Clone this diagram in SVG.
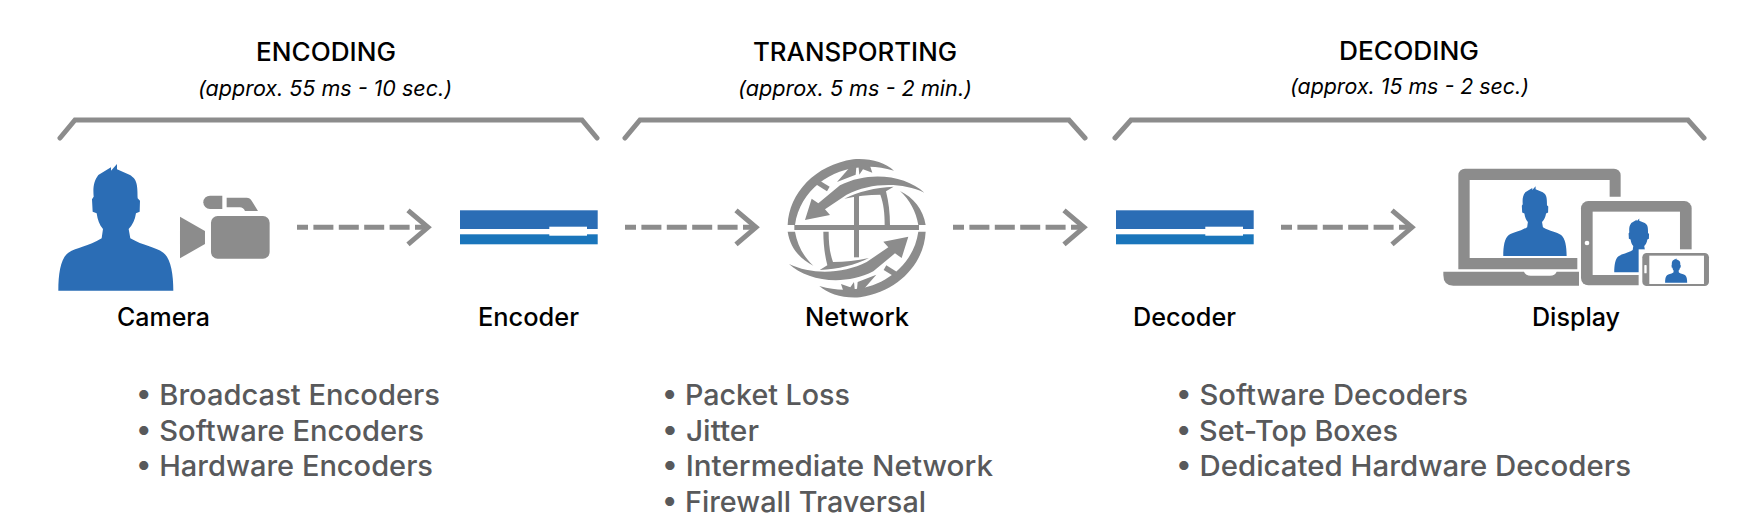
<svg xmlns="http://www.w3.org/2000/svg" xmlns:xlink="http://www.w3.org/1999/xlink" width="1764" height="528" viewBox="0 0 1764 528">
<style>
text{font-family:"Inter","Liberation Sans",sans-serif}
.head{font-size:25px;font-weight:500;fill:#000}
.sub{font-size:21px;font-style:italic;font-weight:400;fill:#000}
.lab{font-size:25px;font-weight:500;fill:#000}
.li{font-size:29px;font-weight:500;fill:#58595b}
.bracket{fill:none;stroke:#8c8c8c;stroke-width:5;stroke-linecap:round;stroke-linejoin:miter}
.flow{fill:none;stroke:#8c8c8c;stroke-width:5;stroke-dasharray:20 5.4;stroke-dashoffset:9}
.g{fill:#8c8c8c}
.p{fill:#2b6db5}
.w{fill:#fff}
.b2{fill:#1a75bb}
</style>
<defs>
<marker id="head" markerUnits="userSpaceOnUse" markerWidth="34" markerHeight="48" refX="27" refY="24" orient="auto">
<path d="M7 7 L27 24 L7 41" fill="none" stroke="#8c8c8c" stroke-width="5"/>
</marker>
<path id="person" d="M85 482C85 430 92 385 115 368C140 352 175 350 215 325L219 297C208 285 203 270 200 250L188 245L186 208L191 200C189 175 190 155 205 135L243 112V122L261 102V118L300 135C320 148 323 160 323 205L330 212L329 245L318 250C315 270 308 285 296 297L301 325C340 348 375 350 400 368C422 385 430 430 430 482Z"/>
<g id="half">
<path d="M38 225C42 130 120 45 235 28C285 24 330 38 357 62C320 52 290 48 262 52C170 55 75 120 60 225Z"/>
<path d="M38 245H60C67 285 85 320 115 347C75 328 45 292 38 245Z"/>
<path d="M448 128C395 78 285 60 195 106L130 160L110 146L90 210L165 195L150 178L215 134C285 98 380 95 448 128Z"/>
<path d="M113 97L121 84L164 110L156 124Z"/>
<path d="M186 96L228 48L245 42L242 74ZM250 44L253 74L264 58L292 68L284 44Z"/>
<path d="M208 146C250 125 300 112 356 110L333 124C341 155 345 190 345 225H329C329 190 326 162 316 134C280 134 245 138 208 146Z"/>
</g>
</defs>
<g id="connectors">
<polyline class="bracket" points="60,138 75,120 582,120 597,138"/>
<polyline class="bracket" points="625,138 640,120 1069,120 1085,138"/>
<polyline class="bracket" points="1115,138 1131,120 1688,120 1704,138"/>
<line class="flow" x1="297" y1="227.3" x2="428" y2="227.3" marker-end="url(#head)"/>
<line class="flow" x1="625" y1="227.3" x2="756" y2="227.3" marker-end="url(#head)"/>
<line class="flow" x1="953" y1="227.3" x2="1084" y2="227.3" marker-end="url(#head)"/>
<line class="flow" x1="1281" y1="227.3" x2="1412" y2="227.3" marker-end="url(#head)"/>
</g>
<g id="stage-encoding">
<text class="head" x="256" y="61" textLength="140" lengthAdjust="spacingAndGlyphs">ENCODING</text>
<text class="sub" x="198" y="96" textLength="254" lengthAdjust="spacingAndGlyphs">(approx. 55 ms - 10 sec.)</text>
</g>
<g id="stage-transporting">
<text class="head" x="753" y="61" textLength="204" lengthAdjust="spacingAndGlyphs">TRANSPORTING</text>
<text class="sub" x="738" y="96" textLength="234" lengthAdjust="spacingAndGlyphs">(approx. 5 ms - 2 min.)</text>
</g>
<g id="stage-decoding">
<text class="head" x="1339" y="60" textLength="140" lengthAdjust="spacingAndGlyphs">DECODING</text>
<text class="sub" x="1290" y="94" textLength="239" lengthAdjust="spacingAndGlyphs">(approx. 15 ms - 2 sec.)</text>
</g>
<g id="camera">
<g transform="translate(30,130) scale(.3333)">
<use xlink:href="#person" href="#person" class="p"/>
<path class="g" d="M450 260L525 303V342L450 385Z"/>
<rect class="g" x="543" y="258" width="176" height="128" rx="20"/>
<path class="g" d="M577 197H540a20 20 0 0 0 0 40H577Z"/>
<path class="g" d="M590 203H650Q660 203 665 212L684 243H645Q640 232 630 232H590Z"/>
</g>
<text class="lab" x="117" y="326" textLength="93" lengthAdjust="spacingAndGlyphs">Camera</text>
</g>
<g id="encoder">
<rect class="p" x="460" y="210.3" width="137.7" height="18.7"/>
<rect class="b2" x="460" y="234.3" width="137.7" height="10"/>
<rect class="w" x="549.3" y="226.7" width="37.7" height="9"/>
<text class="lab" x="478" y="326" textLength="101" lengthAdjust="spacingAndGlyphs">Encoder</text>
</g>
<g id="network">
<g transform="translate(775,150) scale(.3333)" class="g">
<use xlink:href="#half" href="#half"/>
<use xlink:href="#half" href="#half" transform="rotate(180 245 235)"/>
<rect x="58" y="225" width="374" height="15"/>
<rect x="237" y="138" width="15" height="184"/>
</g>
<text class="lab" x="805" y="326" textLength="104" lengthAdjust="spacingAndGlyphs">Network</text>
</g>
<g id="decoder">
<rect class="p" x="1116" y="210.3" width="137.7" height="18.7"/>
<rect class="b2" x="1116" y="234.3" width="137.7" height="10"/>
<rect class="w" x="1205.3" y="226.7" width="37.7" height="9"/>
<text class="lab" x="1133" y="326" textLength="103" lengthAdjust="spacingAndGlyphs">Decoder</text>
</g>
<g id="display">
<g transform="translate(1435,160) scale(.3333)">
<path class="g" d="M70 46a20 20 0 0 1 20-20H537a20 20 0 0 1 20 20V110H524V60H104V294H427V328H70Z"/>
<path class="g" d="M25 335H267Q272 347 287 347H345Q360 347 365 335H432V377H55Q25 377 25 345Z"/>
<use xlink:href="#person" href="#person" class="p" transform="translate(158,22.5) scale(.551)"/>
<rect class="g" x="438" y="123" width="332" height="253" rx="22"/>
<rect class="w" x="473" y="155" width="262" height="190"/>
<circle class="w" cx="456" cy="249" r="7"/>
<use xlink:href="#person" href="#person" class="p" transform="translate(501.6,131.7) scale(.426)"/>
<rect class="w" x="611" y="268" width="170" height="120"/>
<rect class="g" x="622" y="279" width="200" height="99" rx="13"/>
<rect class="w" x="643" y="287" width="164" height="85"/>
<rect class="w" x="628" y="315" width="7" height="25" rx="2"/>
<use xlink:href="#person" href="#person" class="p" transform="translate(674,275.4) scale(.192)"/>
</g>
<text class="lab" x="1532" y="326" textLength="88" lengthAdjust="spacingAndGlyphs">Display</text>
</g>
<g id="encoding-list">
<text class="li" x="136" y="405" textLength="304" lengthAdjust="spacingAndGlyphs">• Broadcast Encoders</text>
<text class="li" x="136" y="441" textLength="288" lengthAdjust="spacingAndGlyphs">• Software Encoders</text>
<text class="li" x="136" y="476" textLength="297" lengthAdjust="spacingAndGlyphs">• Hardware Encoders</text>
</g>
<g id="transport-list">
<text class="li" x="662" y="405" textLength="188" lengthAdjust="spacingAndGlyphs">• Packet Loss</text>
<text class="li" x="662" y="441" textLength="97" lengthAdjust="spacingAndGlyphs">• Jitter</text>
<text class="li" x="662" y="476" textLength="331" lengthAdjust="spacingAndGlyphs">• Intermediate Network</text>
<text class="li" x="662" y="512" textLength="264" lengthAdjust="spacingAndGlyphs">• Firewall Traversal</text>
</g>
<g id="decoding-list">
<text class="li" x="1176" y="405" textLength="292" lengthAdjust="spacingAndGlyphs">• Software Decoders</text>
<text class="li" x="1176" y="441" textLength="222" lengthAdjust="spacingAndGlyphs">• Set-Top Boxes</text>
<text class="li" x="1176" y="476" textLength="455" lengthAdjust="spacingAndGlyphs">• Dedicated Hardware Decoders</text>
</g>
</svg>
